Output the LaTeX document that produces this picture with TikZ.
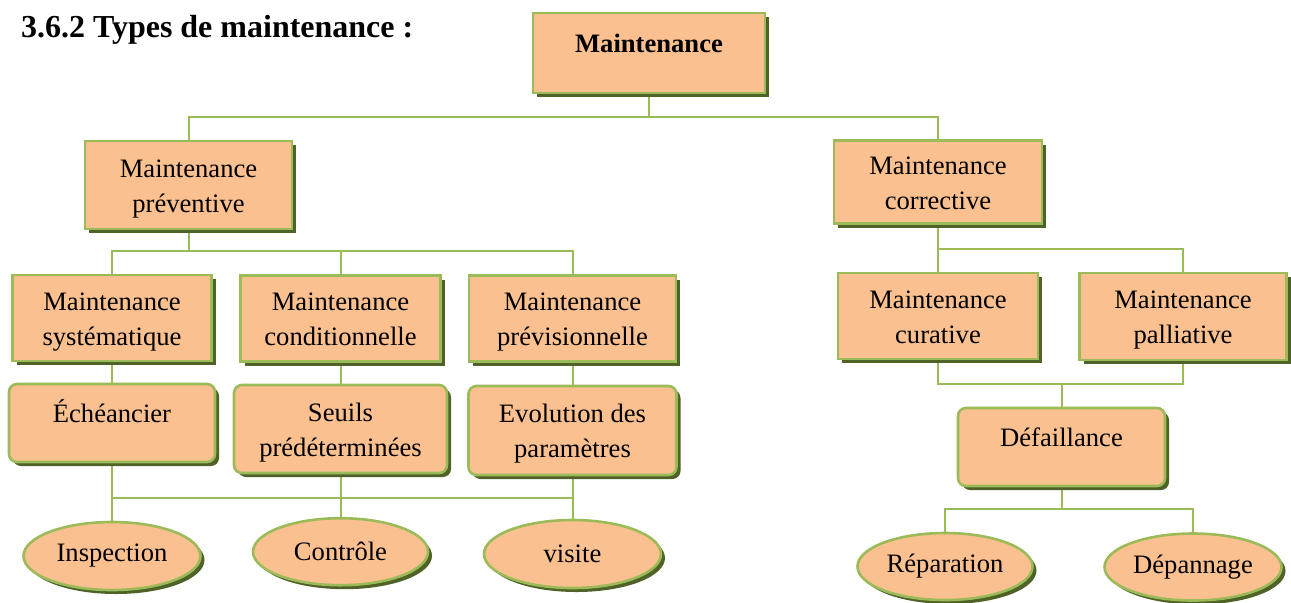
\documentclass[tikz,border=0pt]{standalone}
\usepackage{fontspec}
\setmainfont{Liberation Serif}
\usetikzlibrary{shapes.geometric,shadows,backgrounds}
\definecolor{peche}{HTML}{FAC090}
\definecolor{vertclair}{HTML}{9BBB59}
\definecolor{vertfonce}{HTML}{4F6228}

\begin{document}
\begin{tikzpicture}[x=0.5pt,y=-0.5pt,
    texte/.style={font=\fontsize{13.3}{17.5}\selectfont,align=center},
    boite/.style={texte,rectangle,draw=vertclair,fill=peche,line width=1.3pt,inner sep=0pt,
      drop shadow={shadow xshift=2pt,shadow yshift=-2pt,fill=vertfonce,opacity=1}},
    arrondi/.style={boite,rounded corners=4pt},
    ovale/.style={boite,ellipse},
    taille/.style 2 args={minimum width=#1pt,minimum height=#2pt},
    haut/.style={text height=8.5pt,text depth=9.5pt},
    deuxl/.style={text height=29.5pt,text depth=2.5pt},
    lien/.style={draw=vertclair,line width=1pt}]
        \useasboundingbox (0,0) rectangle (1291,602);
        \node[anchor=base west,font=\fontsize{16}{19}\selectfont\bfseries] (titre) at (14,37) {3.6.2 Types de maintenance :};
        % niveau 1 et 2
        \node[boite,haut,taille={116}{40}] (maint) at (649,53) {\textbf{Maintenance}};
        \node[boite,deuxl,taille={103.5}{44}] (prev) at (188.5,185) {Maintenance\\préventive};
        \node[boite,deuxl,taille={104}{41.5}] (corr) at (938,182) {Maintenance\\corrective};
        % branche preventive
        \node[boite,deuxl,taille={99.5}{43}] (syst) at (112,318) {Maintenance\\systématique};
        \node[boite,deuxl,taille={100}{43}] (cond) at (340.5,318.7) {Maintenance\\conditionnelle};
        \node[boite,deuxl,taille={103.5}{43}] (previs) at (572.5,318.7) {Maintenance\\prévisionnelle};
        \node[arrondi,haut,taille={103}{39}] (ech) at (112,423) {Échéancier};
        \node[arrondi,deuxl,taille={106.5}{44}] (seuils) at (340.5,429) {Seuils\\prédéterminées};
        \node[arrondi,deuxl,taille={104}{44.5}] (evol) at (572.5,430.5) {Evolution des\\paramètres};
        \node[ovale,taille={88.5}{34}] (insp) at (112,556) {Inspection};
        \node[ovale,taille={87.5}{33.5}] (ctrl) at (340.5,551.7) {Contrôle};
        \node[ovale,taille={88.5}{34}] (vis) at (572.5,554) {visite};
        % branche corrective
        \node[boite,deuxl,taille={100}{43}] (cur) at (938,316) {Maintenance\\curative};
        \node[boite,deuxl,taille={103.5}{43.5}] (pall) at (1183,316.3) {Maintenance\\palliative};
        \node[arrondi,haut,taille={103.5}{39}] (def) at (1061.5,447) {Défaillance};
        \node[ovale,taille={87.5}{33.5}] (rep) at (945,566.5) {Réparation};
        \node[ovale,taille={88.5}{33.5}] (dep) at (1193,567) {Dépannage};
        \coordinate (n1) at (0,117);
        \coordinate (n2) at (0,251);
        \coordinate (n3) at (0,498);
        \coordinate (n4) at (0,249);
        \coordinate (n5) at (0,384);
        \coordinate (n6) at (0,509);
        \begin{scope}[on background layer]
        \draw[lien] (maint.south) -- (maint.south |- n1);
        \draw[lien] (prev.north) |- (corr.north |- n1) -- (corr.north);
        \draw[lien] (prev.south) -- (prev.south |- n2);
        \draw[lien] (syst.north) |- (previs.north |- n2) -- (previs.north);
        \draw[lien] (cond.north) -- (cond.north |- n2);
        \draw[lien] (syst.south) -- (ech.north);
        \draw[lien] (cond.south) -- (seuils.north);
        \draw[lien] (previs.south) -- (evol.north);
        \draw[lien] (ech.south) -- (insp.north);
        \draw[lien] (seuils.south) -- (ctrl.north);
        \draw[lien] (evol.south) -- (vis.north);
        \draw[lien] (ech.south |- n3) -- (evol.south |- n3);
        \draw[lien] (corr.south) -- (cur.north);
        \draw[lien] (corr.south |- n4) -| (pall.north);
        \draw[lien] (cur.south) |- (pall.south |- n5) -- (pall.south);
        \draw[lien] (def.north) -- (def.north |- n5);
        \draw[lien] (def.south) -- (def.south |- n6);
        \draw[lien] (rep.north) |- (dep.north |- n6) -- (dep.north);
        \end{scope}
      \end{tikzpicture}
\end{document}
